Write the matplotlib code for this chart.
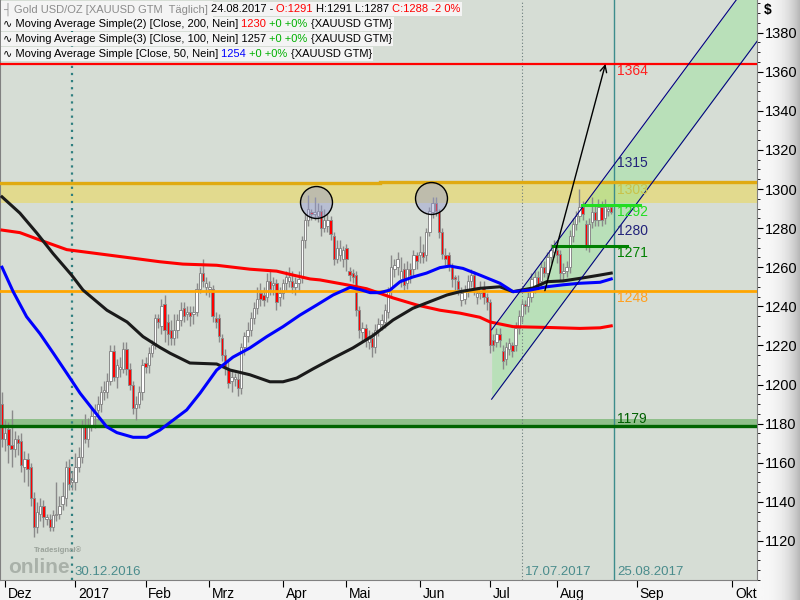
import matplotlib
matplotlib.use("Agg")
import matplotlib.pyplot as plt
import matplotlib.transforms as mtransforms
from matplotlib import font_manager
from matplotlib.ticker import MultipleLocator
import numpy as np
import pandas as pd

# Tageskerzen Gold (XAUUSD)
opens = [
    1190, 1172, 1177, 1169, 1167, 1172, 1171, 1158, 1162, 1158,
    1142, 1127, 1134, 1138, 1131, 1131, 1127, 1133, 1134, 1139,
    1142, 1158, 1150, 1150, 1158, 1163, 1179, 1172, 1179, 1184,
    1187, 1190, 1196, 1196, 1202, 1217, 1204, 1208, 1208, 1218,
    1208, 1200, 1188, 1190, 1196, 1211, 1210, 1216, 1220, 1234,
    1230, 1241, 1232, 1228, 1224, 1228, 1233, 1239, 1236, 1237,
    1236, 1237, 1249, 1257, 1250, 1249, 1249, 1234, 1234, 1224,
    1215, 1208, 1202, 1203, 1203, 1198, 1219, 1225, 1228, 1234,
    1239, 1247, 1246, 1245, 1253, 1251, 1252, 1245, 1247, 1252,
    1253, 1253, 1250, 1252, 1255, 1274, 1284,
    1288, 1287, 1286, 1289, 1280, 1281, 1284, 1276, 1264, 1266,
    1264, 1270, 1258, 1257, 1256, 1238, 1227, 1229, 1222, 1224,
    1219, 1228, 1231, 1232, 1237, 1248, 1259, 1260, 1254, 1259,
    1252, 1259, 1259, 1266, 1266, 1268, 1266, 1278, 1288, 1293,
    1288, 1278, 1266, 1266, 1260, 1255, 1253,
    1243, 1244, 1248, 1253, 1256, 1245, 1247, 1250, 1245, 1242,
    1223, 1222, 1226, 1217, 1213, 1218, 1220, 1220, 1229, 1235,
    1241, 1240, 1245, 1250, 1255, 1253, 1260, 1257, 1265, 1268,
    1269, 1267, 1257, 1258, 1260, 1276, 1282, 1286, 1291, 1282,
    1271, 1283, 1288, 1284, 1291, 1285, 1289, 1291,
]
highs = [
    1196, 1182, 1181, 1187, 1176, 1174, 1175, 1166, 1165, 1160,
    1145, 1140, 1142, 1141, 1134, 1134, 1136, 1150, 1143, 1150,
    1161, 1162, 1156, 1165, 1168, 1182, 1185, 1183, 1188, 1190,
    1194, 1199, 1202, 1206, 1220, 1220, 1213, 1214, 1222, 1222,
    1211, 1202, 1194, 1199, 1213, 1214, 1219, 1223, 1236, 1236,
    1244, 1246, 1236, 1233, 1236, 1236, 1242, 1242, 1240, 1240,
    1240, 1252, 1260, 1264, 1255, 1253, 1251, 1237, 1236, 1226,
    1218, 1212, 1207, 1206, 1206, 1221, 1227, 1232, 1237, 1242,
    1250, 1252, 1250, 1257, 1259, 1255, 1254, 1250, 1254, 1258,
    1260, 1258, 1255, 1258, 1276, 1287, 1297,
    1290, 1296, 1293, 1292, 1290, 1287, 1286, 1278, 1274, 1274,
    1271, 1272, 1260, 1259, 1258, 1240, 1232, 1231, 1228, 1227,
    1231, 1234, 1236, 1241, 1250, 1266, 1264, 1268, 1265, 1262,
    1263, 1262, 1269, 1268, 1276, 1272, 1280, 1291, 1296, 1296,
    1290, 1280, 1270, 1268, 1262, 1256, 1256,
    1250, 1251, 1256, 1259, 1258, 1250, 1253, 1253, 1247, 1244,
    1226, 1229, 1229, 1220, 1222, 1224, 1222, 1232, 1238, 1243,
    1243, 1248, 1257, 1258, 1258, 1263, 1263, 1268, 1272, 1274,
    1272, 1269, 1262, 1263, 1279, 1285, 1289, 1300, 1294, 1284,
    1285, 1296, 1292, 1295, 1294, 1295, 1292, 1291,
]
lows = [
    1168, 1166, 1160, 1158, 1163, 1164, 1155, 1150, 1148, 1138,
    1122, 1124, 1130, 1127, 1128, 1125, 1125, 1130, 1131, 1136,
    1138, 1146, 1146, 1146, 1155, 1160, 1170, 1168, 1176, 1178,
    1182, 1186, 1192, 1193, 1200, 1202, 1198, 1204, 1206, 1205,
    1197, 1185, 1182, 1188, 1192, 1206, 1206, 1214, 1218, 1229,
    1226, 1222, 1220, 1220, 1220, 1224, 1230, 1232, 1233, 1230,
    1231, 1235, 1247, 1250, 1246, 1245, 1232, 1229, 1222, 1212,
    1205, 1198, 1196, 1199, 1194, 1195, 1215, 1222, 1225, 1231,
    1236, 1240, 1240, 1242, 1246, 1246, 1238, 1240, 1244, 1248,
    1250, 1247, 1246, 1248, 1252, 1270, 1281,
    1284, 1284, 1283, 1276, 1278, 1278, 1274, 1261, 1262, 1263,
    1260, 1258, 1253, 1252, 1235, 1224, 1222, 1219, 1218, 1214,
    1216, 1225, 1228, 1229, 1234, 1245, 1255, 1256, 1250, 1248,
    1249, 1252, 1256, 1259, 1262, 1262, 1263, 1276, 1285, 1286,
    1275, 1264, 1261, 1258, 1250, 1247, 1246,
    1240, 1241, 1245, 1250, 1246, 1241, 1244, 1241, 1238, 1216,
    1217, 1219, 1219, 1208, 1210, 1215, 1214, 1217, 1226, 1232,
    1236, 1237, 1242, 1247, 1248, 1250, 1255, 1254, 1262, 1265,
    1262, 1253, 1253, 1255, 1257, 1273, 1279, 1283, 1284, 1269,
    1268, 1280, 1281, 1281, 1281, 1282, 1286, 1287,
]
closes = [
    1172, 1175, 1169, 1167, 1172, 1170, 1159, 1162, 1157, 1142,
    1127, 1135, 1138, 1132, 1132, 1127, 1133, 1134, 1138, 1143,
    1158, 1149, 1151, 1158, 1163, 1179, 1172, 1179, 1184, 1186,
    1190, 1196, 1197, 1202, 1217, 1204, 1210, 1209, 1218, 1208,
    1200, 1188, 1190, 1196, 1210, 1209, 1216, 1220, 1234, 1232,
    1240, 1228, 1226, 1224, 1228, 1233, 1238, 1235, 1237, 1235,
    1237, 1249, 1257, 1253, 1252, 1250, 1235, 1232, 1225, 1215,
    1209, 1201, 1204, 1203.5, 1198, 1219, 1225, 1228, 1234, 1239,
    1244, 1244, 1243, 1253, 1249, 1252, 1242, 1247, 1252, 1255,
    1255, 1250, 1252, 1254, 1274, 1284, 1290,
    1287, 1288, 1289, 1280, 1284, 1284, 1277, 1264, 1270, 1270,
    1269, 1264, 1256, 1255, 1238, 1228, 1229, 1223, 1225, 1219,
    1228, 1231, 1233, 1238, 1248, 1260, 1261, 1264, 1258, 1251,
    1259, 1256, 1266, 1263, 1268, 1265, 1278, 1289, 1293, 1289,
    1278, 1267, 1264, 1261, 1254, 1254, 1249,
    1247, 1248, 1253, 1256, 1249, 1247, 1250, 1245, 1242, 1220,
    1220, 1226, 1223, 1212, 1219, 1221, 1217, 1229, 1235, 1241,
    1240, 1245, 1254, 1255, 1251, 1260, 1257, 1265, 1269, 1271,
    1266, 1257, 1258, 1260, 1276, 1282, 1286, 1291, 1287, 1271,
    1282, 1288, 1284, 1291, 1284, 1291, 1290, 1288,
]
last_day = "2017-08-24"

sma200_idx = [0, 5.6, 11.9, 20.3, 30.7, 41.1, 49.5, 56.7, 67.3, 77.7, 86.1, 91.2,
              96.6, 99.7, 108.1, 114.3, 122.6, 130, 137.3, 143.6, 149.8, 153, 160.2,
              170.8, 181.2, 187.5, 191]
sma200 = [1279, 1277.7, 1273.9, 1269, 1266.8, 1264.6, 1262.8, 1261.6, 1261, 1259,
          1258, 1256, 1254, 1253.5, 1251, 1249, 1244.3, 1240.7, 1238, 1236.5, 1234.4,
          1232, 1229.6, 1229.2, 1228.7, 1229, 1230]
sma100_idx = [0, 5.6, 10.9, 16, 21.8, 25.4, 32.9, 39.2, 44.2, 49.5, 52.7, 58.9, 67.3,
              71.5, 77.7, 84, 88.1, 92.4, 97.5, 103.8, 110, 116.3, 122.6, 128.8, 135.1,
              139.5, 143.6, 149.8, 156.1, 160.2, 166.5, 170.8, 175.9, 181.2, 187.5, 191]
sma100 = [1296, 1287.7, 1277.5, 1267, 1256, 1248.3, 1238, 1232, 1224.5, 1219, 1216,
          1211, 1210.5, 1207.4, 1205, 1201.4, 1201.4, 1203.3, 1208, 1213.5, 1218.7,
          1225, 1233, 1239, 1243, 1245.8, 1247.5, 1249.2, 1250, 1247.5, 1249.4, 1252.6,
          1253, 1254.3, 1256, 1257]
sma50_idx = [0, 3.5, 7.7, 11.9, 16.1, 20.3, 24.5, 28.6, 32.8, 36, 41.1, 45.4, 49.5,
             57.9, 62.1, 67.3, 72.4, 77.7, 83, 88.1, 93.4, 98.7, 103.8, 109.1, 112.2,
             115.4, 118.5, 121.6, 124.8, 128.8, 133.1, 137.3, 140.4, 144.5, 149.8,
             156.1, 160.2, 165.5, 170.8, 175.9, 181.2, 187.5, 191]
sma50 = [1260, 1247.5, 1234.7, 1226, 1216, 1205.8, 1195.5, 1187, 1178.4, 1175.4, 1173,
         1173, 1176.7, 1187, 1195.6, 1207.4, 1214, 1218.7, 1224.5, 1229.6, 1235.5,
         1240.7, 1245.8, 1249.7, 1248.6, 1247, 1247, 1248.3, 1252.6, 1255, 1257, 1259.8,
         1260.6, 1259.4, 1256, 1251.8, 1247.5, 1248.3, 1250, 1251, 1251.8, 1252.3, 1254]

# Zeichnungen
month_starts = ["2016-12-01", "2017-01-01", "2017-02-01", "2017-03-01", "2017-04-01",
                "2017-05-01", "2017-06-01", "2017-07-01", "2017-08-01", "2017-09-01",
                "2017-10-01"]
month_names = ["Dez", "2017", "Feb", "Mrz", "Apr", "Mai", "Jun", "Jul", "Aug", "Sep", "Okt"]
marker_days = ["2016-12-30", "2017-07-17", "2017-08-25"]
marker_texts = ["30.12.2016", "17.07.2017", "25.08.2017"]
circle_days = ["2017-04-17", "2017-06-06"]
circle_prices = [1293.5, 1295.4]
chan_x = [153.5, 245]
chan_hi = [1228, 1429.3]
chan_lo = [1192.5, 1393.8]
arrow_x = [170.2, 189.2]
arrow_y = [1248, 1364]
seg1292_x = [181.8, 200]
seg1271_x = [172.6, 195.8]
level_texts = ["1364", "1315", "1303", "1292", "1280", "1271", "1248", "1179"]
level_prices = [1364, 1313.5, 1303, 1292, 1278.5, 1271, 1248, 1179]
level_colors = ["#ff2020", "#22227a", "#c9c24a", "#22dd22", "#22227a", "#008000",
                "#ffa020", "#006000"]
level_va = ["top", "center", "top", "top", "center", "top", "top", "bottom"]

dates = pd.bdate_range(end=last_day, periods=len(closes))


def xpos(day):
    day = pd.Timestamp(day)
    if day <= dates[-1]:
        return int(dates.searchsorted(day))
    return len(dates) - 1 + (day - dates[-1]).days


installed = {f.name for f in font_manager.fontManager.ttflist}
NARROW = "Liberation Sans Narrow" if "Liberation Sans Narrow" in installed else "Liberation Sans"
plt.rcParams["font.family"] = ["Liberation Sans", "DejaVu Sans"]

fig = plt.figure(figsize=(8, 6), dpi=100, facecolor="#f4f4f4")

# rechter Skalenbereich mit Verlauf
gax = fig.add_axes([757 / 800, 0, 43 / 800, 1], zorder=0)
shade = 0.97 - 0.25 * np.linspace(0, 1, 60) ** 3
gax.imshow(np.tile(shade, (2, 1)), cmap="gray", vmin=0, vmax=1, aspect="auto",
           extent=[0, 1, 0, 1])
gax.axis("off")

ax = fig.add_axes([0, 20 / 600, 757 / 800, 580 / 600], zorder=1)
ax.set_facecolor("#d6ddd5")
ax.set_xlim(-0.63, 236.7)
ax.set_ylim(1100, 1396.7)

# Widerstandszone
ax.axhspan(1293, 1303, color="#e2da8e", lw=0, zorder=1)
ax.plot([-1, 118.5], [1303, 1303], color="#e0aa10", lw=2.4, zorder=3.5)
ax.plot([118.5, 240], [1303.8, 1303.8], color="#e0aa10", lw=2.4, zorder=3.5)
ax.axhspan(1179, 1182.3, color="#8fbf8a", lw=0, zorder=1.2)

# Trendkanal
ax.fill_between(chan_x, chan_lo, chan_hi, color="#8ce68c", alpha=0.38, lw=0, zorder=1.5)
ax.plot(chan_x, chan_hi, color="#000080", lw=0.8, zorder=4.5)
ax.plot(chan_x, chan_lo, color="#000080", lw=0.8, zorder=4.5)

# Markierungen
ax.axvline(xpos(marker_days[0]), color="#2f7f7f", lw=1.6, ls=(0, (1, 2.2)), zorder=2)
ax.axvline(xpos(marker_days[1]), color="#6b7b7b", lw=0.8, ls=(0, (1, 2)), zorder=2)
ax.axvline(xpos(marker_days[2]), color="#3c8c8c", lw=1, zorder=2)
for day, txt in zip(marker_days, marker_texts):
    ax.text(xpos(day) + 0.8, 1104, txt, color="#4a8c8c", fontsize=9.5,
            family=NARROW, va="center", ha="left", zorder=6)

# Kerzen
x = np.arange(len(closes))
o = np.array(opens, dtype=float)
c = np.array(closes, dtype=float)
up = c >= o
ax.vlines(x, lows, highs, color="#8a8a8a", lw=1, zorder=3)
ax.bar(x, np.maximum(np.abs(c - o), 0.6), bottom=np.minimum(o, c), width=0.75,
       color=np.where(up, "white", "#ff0000"), edgecolor="#8a8a8a", linewidth=0.7,
       zorder=3.2)

# Linien
ax.axhline(1364, color="#ff0000", lw=1.6, zorder=3.5)
ax.axhline(1248, color="#ffa500", lw=2, zorder=3.5)
ax.axhline(1179, color="#006400", lw=2.4, zorder=3.5)
ax.plot(seg1292_x, [1292, 1292], color="#22dd22", lw=2.2, zorder=4.6)
ax.plot(seg1271_x, [1271, 1271], color="#008000", lw=2.2, zorder=4.6)

ax.plot(sma200_idx, sma200, color="#ff0000", lw=2.2, zorder=4, solid_joinstyle="round")
ax.plot(sma100_idx, sma100, color="#1a1a1a", lw=2.2, zorder=4, solid_joinstyle="round")
ax.plot(sma50_idx, sma50, color="#0000ff", lw=2.2, zorder=4, solid_joinstyle="round")

ax.annotate("", xy=(arrow_x[1], arrow_y[1]), xytext=(arrow_x[0], arrow_y[0]),
            arrowprops=dict(arrowstyle="->", color="black", lw=1, shrinkA=0, shrinkB=0,
                            mutation_scale=12), zorder=5)
ax.plot([xpos(d) + 0.4 for d in circle_days], circle_prices, "o", ms=23,
        mfc=(0.58, 0.6, 0.82, 0.45), mec="black", mew=1, zorder=5)

label_x = xpos(marker_days[2]) + 0.8
for txt, p, col, va in zip(level_texts, level_prices, level_colors, level_va):
    ax.text(label_x, p, txt, color=col, fontsize=10, family=NARROW, va=va, ha="left",
            zorder=6)

# Achsen
for side in ["left", "bottom", "right"]:
    ax.spines[side].set_color("#808080")
ax.spines["top"].set_visible(False)
ax.yaxis.tick_right()
ax.set_yticks(np.arange(1120, 1381, 20))
ax.yaxis.set_minor_locator(MultipleLocator(5))
ax.tick_params(axis="y", which="major", direction="out", length=4, pad=2, labelsize=10.5)
ax.tick_params(axis="y", which="minor", direction="out", length=2)
for lbl in ax.get_yticklabels():
    lbl.set_family(NARROW)

ax.set_xticks([xpos(d) for d in month_starts], month_names)
ax.tick_params(axis="x", direction="out", length=5, pad=0, labelsize=10)
shift = mtransforms.ScaledTranslation(2 / 72, 0, fig.dpi_scale_trans)
for lbl in ax.get_xticklabels():
    lbl.set_ha("left")
    lbl.set_family(NARROW)
    lbl.set_transform(lbl.get_transform() + shift)

fig.text(764 / 800, 1 - 10 / 600, "$", fontsize=10, fontweight="bold", va="center")

# Logo
fig.text(8 / 800, 1 - 577 / 600, "online", fontsize=15, fontweight="bold",
         color="#a9b1a9", va="bottom")
fig.text(34 / 800, 1 - 550 / 600, "Tradesignal®", fontsize=5.5, fontweight="bold",
         color="#9aa29a", va="center")

# Legende
rows = [
    [("┤ Gold USD/OZ [XAUUSD GTM  Täglich] ", "#8c8c8c"), ("24.08.2017 - ", "black"),
     ("O:1291 ", "red"), ("H:1291 L:1287 ", "black"), ("C:1288 -2 0%", "red")],
    [("∿ Moving Average Simple(2) [Close, 200, Nein] ", "black"), ("1230 ", "red"),
     ("+0 +0% ", "#00b000"), ("{XAUUSD GTM}", "black")],
    [("∿ Moving Average Simple(3) [Close, 100, Nein] 1257 ", "black"),
     ("+0 +0% ", "#00b000"), ("{XAUUSD GTM}", "black")],
    [("∿ Moving Average Simple [Close, 50, Nein] ", "black"), ("1254 ", "blue"),
     ("+0 +0% ", "#00b000"), ("{XAUUSD GTM}", "black")],
]
box = dict(boxstyle="square,pad=0.15", fc="#f4f4f4", ec="none")
for i, pieces in enumerate(rows):
    prev = None
    for txt, col in pieces:
        if prev is None:
            prev = ax.annotate(txt, xy=(3, 600 - (9 + 15 * i)), xycoords="figure pixels",
                               va="center", ha="left", color=col, fontsize=8, bbox=box,
                               zorder=10)
        else:
            prev = ax.annotate(txt, xy=(1, 0.5), xycoords=prev, va="center", ha="left",
                               color=col, fontsize=8, bbox=box, zorder=10)

fig.savefig("out.png", dpi=100, facecolor=fig.get_facecolor())
